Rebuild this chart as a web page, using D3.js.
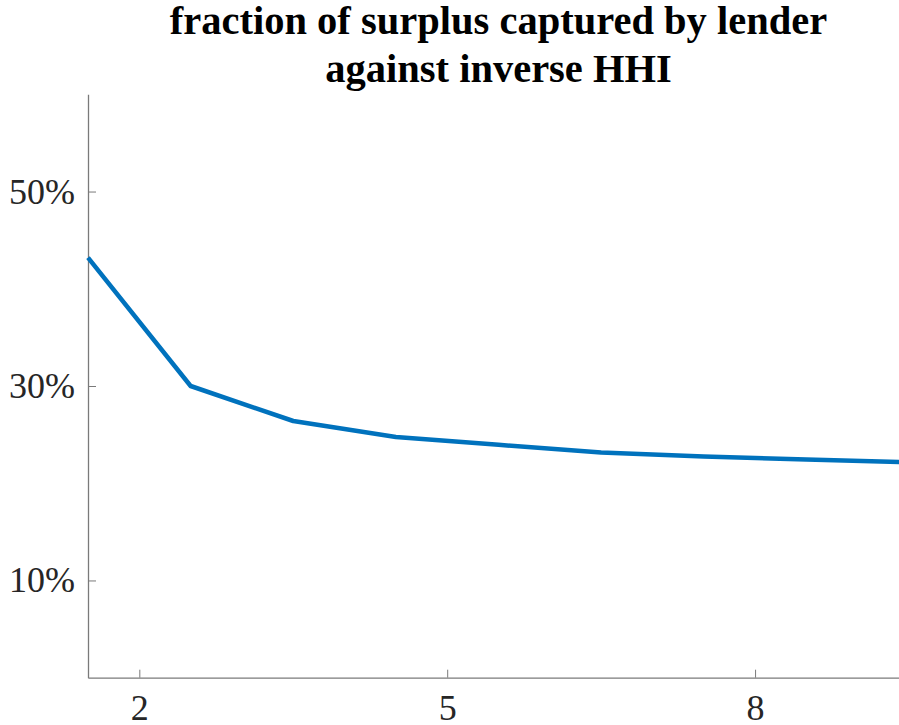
<!DOCTYPE html>
<html><head><meta charset="utf-8">
<script src="https://cdn.jsdelivr.net/npm/d3@7/dist/d3.min.js"></script>
<style>body{margin:0;background:#fff;overflow:hidden} svg text{font-family:"Liberation Serif","Times New Roman",Times,serif;}</style>
</head><body><svg id="c" width="899" height="725"></svg>
<script>
const titleLines = ["fraction of surplus captured by lender", "against inverse HHI"];
const xValues = [1.5, 2.5, 3.5, 4.5, 5.5, 6.5, 7.5, 8.5, 9.5];
const yValues = [43.2, 30.0, 26.4, 24.75, 23.95, 23.15, 22.75, 22.45, 22.15];
const xTicks = [2, 5, 8];
const yTicks = [10, 30, 50];

const svg = d3.select("#c");
const m = {left: 88, top: 94.3, right: 909, bottom: 677.7};
const x = d3.scaleLinear().domain([1.5, 9.5]).range([m.left, m.right]);
const y = d3.scaleLinear().domain([0, 60]).range([m.bottom, m.top]);

const axisColor = "#7a7a7a";

const gx = svg.append("g").attr("transform", `translate(0,${m.bottom})`)
  .call(d3.axisBottom(x).tickValues(xTicks).tickSize(-8).tickPadding(17).tickSizeOuter(0).tickFormat(d3.format("d")));
const gy = svg.append("g").attr("transform", `translate(${m.left},0)`)
  .call(d3.axisLeft(y).tickValues(yTicks).tickSize(-8).tickPadding(13).tickSizeOuter(0).tickFormat(d => d + "%"));
[gx, gy].forEach(g => {
  g.attr("font-family", null);
  g.select(".domain").attr("stroke", axisColor).attr("stroke-width", 1.3);
  g.selectAll(".tick line").attr("stroke", axisColor).attr("stroke-width", 1);
  g.selectAll(".tick text").attr("fill", "#262626").style("font-size", "36px");
});
gx.selectAll(".tick text").attr("dy", "0.71em");

const line = d3.line().x((d, i) => x(xValues[i])).y(d => y(d));
svg.append("path").datum(yValues).attr("d", line)
  .attr("fill", "none").attr("stroke", "#0072BD").attr("stroke-width", 4.5).attr("stroke-linejoin", "round");

svg.append("g").selectAll("text").data(titleLines).join("text")
  .attr("x", (m.left + m.right) / 2).attr("y", (d, i) => 33.5 + i * 48)
  .attr("text-anchor", "middle").style("font-weight", "bold")
  .style("font-size", "40.5px").attr("fill", "#000").text(d => d);
</script></body></html>
